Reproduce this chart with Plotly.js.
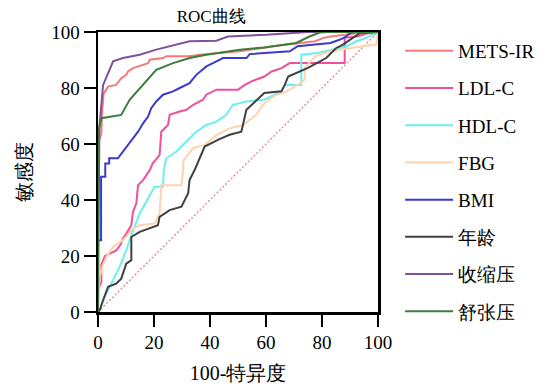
<!DOCTYPE html>
<html>
<head>
<meta charset="utf-8">
<script src="https://cdn.plot.ly/plotly-3.0.1.min.js"></script>
<style>html,body{margin:0;padding:0;background:#fff;}#chart{width:559px;height:390px;}</style>
</head>
<body>
<div id="chart"></div>
<script>
// Series names (legend order)
var seriesNames = ["METS-IR", "LDL-C", "HDL-C", "FBG", "BMI", "年龄", "收缩压", "舒张压"];
var seriesColors = ["#F47A7A", "#F0509A", "#6AF0F0", "#FFD3AE", "#3A3ACC", "#404040", "#80509A", "#3C7D3C"];

// 100-特异度 (x) and 敏感度 (y) for each curve
var metsX = [0, 0, 1.2, 1.5, 2, 3.6, 6.5, 8.3, 10.1, 10.7, 12.5, 17.9, 18.5, 23.2, 24.4, 32.7, 36.3, 44.6, 50.6, 62.5, 77.5, 80.6, 83, 88.3, 95, 100];
var metsY = [0, 60, 63.8, 72, 78, 80.5, 81.1, 83.5, 84.7, 85.9, 87.1, 88.9, 90.1, 90.7, 91.3, 91.3, 91.9, 92.5, 93.1, 94.9, 96.7, 97.9, 98.4, 99, 100, 100];

var ldlX = [0, 0, 1.2, 1.2, 2.5, 4.5, 6.5, 8, 8.9, 10.1, 11.9, 12.5, 13.7, 14.3, 16.1, 18.5, 19.5, 22, 22.6, 25, 25.6, 29.2, 31.6, 34, 37.5, 38.7, 42.3, 50, 52.4, 54.6, 59.4, 62, 65.5, 68.5, 88.1, 88.1, 93, 96, 100];
var ldlY = [0, 8, 10.7, 17, 20, 21, 22, 24, 26.3, 28, 31, 35.8, 38.8, 45.3, 47.1, 50.7, 53, 56, 64.4, 66.8, 70.4, 71.6, 72.2, 74, 75.8, 77.6, 79.4, 79.4, 81.1, 82.3, 84.1, 85.9, 87.1, 88.9, 88.9, 97.9, 98.5, 99.5, 100];

var hdlX = [0, 0.6, 2.4, 4.8, 7.7, 10.1, 11.9, 14.9, 20.2, 23.2, 23.5, 24.4, 28, 31.5, 35.1, 38.7, 42.3, 45.8, 48.2, 53, 59.4, 65.5, 66.7, 72.6, 72.6, 78.5, 88.7, 92.3, 96, 100];
var hdlY = [0, 0.6, 5.4, 10.1, 16.1, 22.1, 27.4, 35.2, 44.7, 44.7, 50.7, 54.9, 57.3, 60.9, 64.4, 66.8, 68, 70.4, 74, 75.2, 75.8, 78.8, 81.1, 81.1, 91.9, 92.5, 94.9, 96.7, 98, 100];

var fbgX = [0, 0.5, 1.5, 3, 5.4, 8.9, 12.5, 14.9, 20.2, 22, 22.6, 29.8, 30.4, 30.4, 33.9, 38.1, 42.3, 47, 51.8, 54.2, 56.5, 58.9, 62.5, 67.3, 72.3, 73.8, 73.8, 77.5, 83, 94.6, 99.4, 100];
var fbgY = [0, 12, 16.1, 19.7, 23.3, 25.7, 29.8, 31, 31.6, 35.2, 45.3, 45.3, 50.7, 53.7, 58.5, 59.7, 63.2, 65.6, 66.8, 68.5, 70.4, 74, 77, 78.8, 81.7, 83, 87.1, 91.3, 93.1, 94.9, 95.5, 100];

var bmiX = [0, 0, 1.1, 1.1, 2.6, 2.6, 4, 4, 7.1, 8.9, 10.7, 12.5, 14.3, 16.1, 17.9, 19, 20.8, 23.2, 26.8, 29.2, 32.7, 35.1, 38.7, 42.3, 44.6, 53, 54.2, 68.5, 71.3, 83, 86.5, 88.7, 90, 92, 100];
var bmiY = [0, 25.6, 25.6, 48.3, 48.3, 53, 53, 54.9, 54.9, 57.3, 59.7, 62.1, 64.4, 67.4, 69.8, 72.8, 75.2, 77.6, 78.8, 80, 81.7, 84.7, 87.7, 89.5, 90.7, 90.7, 92.1, 93.1, 94.9, 96.1, 97.3, 98.4, 99.6, 100, 100];

var ageX = [0, 0.6, 1.8, 3.6, 6.5, 8.3, 10.1, 11.9, 11.9, 14.9, 21.4, 22, 25.6, 29.8, 32.2, 32.7, 34.5, 38.1, 42.8, 47, 51.2, 52.4, 53, 59.4, 65.5, 66.7, 67.9, 74.8, 78, 81.5, 85.1, 87.5, 91, 93.5, 100];
var ageY = [0, 0.6, 4.2, 9, 10.1, 11.9, 17.3, 18.5, 26.8, 28.6, 31, 34, 36.4, 37.6, 42.4, 47.1, 50.7, 59.1, 61.5, 63.3, 64.4, 70.4, 72.2, 78.2, 78.8, 81.1, 84.1, 87.1, 88.9, 90.7, 94.3, 95.5, 97.9, 99.6, 100];

var sbpX = [0, 0.5, 1.8, 5.4, 8.9, 14.9, 20.8, 26.8, 32.7, 42.3, 46.4, 60, 75, 100];
var sbpY = [0, 66, 81, 89.5, 90.7, 91.9, 93.7, 95.2, 96.7, 96.9, 98.4, 99, 100, 100];

var dbpX = [0, 0, 1.2, 8.3, 11.3, 14.9, 20.8, 26.8, 32.7, 38.7, 44.6, 50.6, 59.4, 70.8, 75.5, 79.2, 82, 100];
var dbpY = [0, 64, 69.2, 70.4, 75.8, 80, 86.5, 88.9, 90.7, 91.9, 92.8, 93.7, 94.5, 96.1, 98.4, 99.8, 100, 100];

var refX = [0, 100];
var refY = [0, 100];

var xTicks = [0, 20, 40, 60, 80, 100];
var yTicks = [0, 20, 40, 60, 80, 100];

var allX = [metsX, ldlX, hdlX, fbgX, bmiX, ageX, sbpX, dbpX];
var allY = [metsY, ldlY, hdlY, fbgY, bmiY, ageY, sbpY, dbpY];

var FONT = "Liberation Serif";

var traces = [{
  x: refX, y: refY, mode: "lines", showlegend: false, hoverinfo: "skip",
  line: {color: "#F47C7C", width: 1.3, dash: "2px,2px"}
}];
for (var i = 0; i < seriesNames.length; i++) {
  traces.push({
    x: allX[i], y: allY[i], mode: "lines", name: seriesNames[i],
    legendgroup: "g" + i,
    line: {color: seriesColors[i], width: 2}
  });
}

var axisCommon = {
  range: [0, 100], showgrid: false, zeroline: false,
  showline: true, linecolor: "#000", linewidth: 2.5, mirror: true,
  ticks: "outside", ticklen: 12, tickwidth: 2.5, tickcolor: "#000",
  tickfont: {family: FONT, size: 19, color: "#000"}, fixedrange: true
};

var layout = {
  width: 559, height: 390,
  margin: {l: 98, r: 181, t: 32, b: 78},
  paper_bgcolor: "#fff", plot_bgcolor: "#fff",
  font: {family: FONT, color: "#000"},
  title: {text: "ROC曲线", font: {family: FONT, size: 17, color: "#000"},
          xref: "paper", x: 0.404, xanchor: "center", yref: "container", y: 0.959, yanchor: "middle"},
  xaxis: Object.assign({}, axisCommon, {tickvals: xTicks, ticktext: xTicks.map(String),
    title: {text: "100-特异度", font: {family: FONT, size: 20, color: "#000"}, standoff: 14}}),
  yaxis: Object.assign({}, axisCommon, {tickvals: yTicks, ticktext: yTicks.map(String),
    title: {text: "敏感度", font: {family: FONT, size: 20, color: "#000"}, standoff: 14}}),
  legend: {x: 1.079, xanchor: "left", y: 1, yanchor: "top", xref: "paper", yref: "paper",
           maxheight: 380,
           font: {family: FONT, size: 19, color: "#000"}, itemwidth: 48, tracegroupgap: 9.5,
           traceorder: "grouped", bgcolor: "rgba(0,0,0,0)"},
  showlegend: true
};

Plotly.newPlot("chart", traces, layout, {staticPlot: true, displayModeBar: false});
</script>
</body>
</html>
